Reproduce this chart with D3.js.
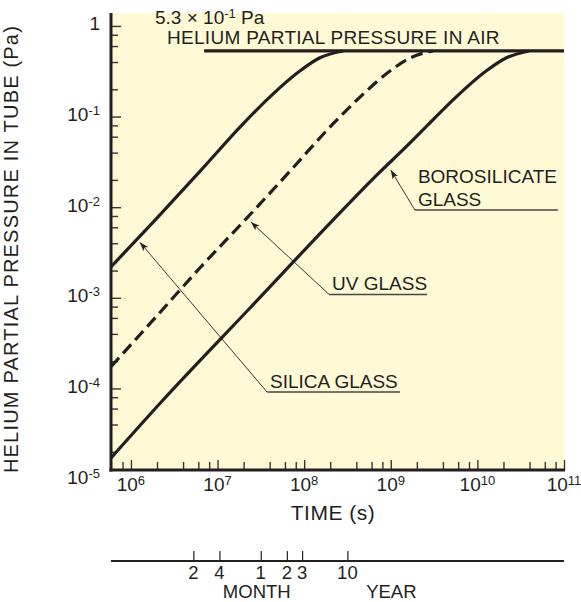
<!DOCTYPE html>
<html>
<head>
<meta charset="utf-8">
<script src="https://cdn.jsdelivr.net/npm/d3@7/dist/d3.min.js"></script>
<style>
  body { margin: 0; background: #ffffff; }
  text { font-family: "Liberation Sans", Arial, Helvetica, sans-serif; fill: #231f20; }
</style>
</head>
<body>
<svg id="chart" width="581" height="602"></svg>
<script>
// Helium build-up inside a tube, per envelope glass (time in s, pressure in Pa)
const silicaTime = [5.89e5, 1.9e6, 6.3e6, 1.97e7, 4.0e7, 8.9e7, 1.5e8, 2.8e8];
const silicaPressure = [2.2e-3, 7.2e-3, 2.5e-2, 8.3e-2, 0.164, 0.318, 0.443, 0.53];

const uvTime = [5.89e5, 1.9e6, 6.44e6, 2.07e7, 6.86e7, 2.15e8, 4.41e8, 9.79e8, 1.67e9, 3.07e9];
const uvPressure = [1.74e-4, 6.0e-4, 2.2e-3, 7.2e-3, 2.5e-2, 8.3e-2, 0.164, 0.318, 0.443, 0.53];

const boroTime = [5.89e5, 2.35e6, 2.37e7, 2.15e8, 7.51e8, 1.38e9, 2.76e9, 5.66e9, 1.26e10, 2.14e10, 3.94e10];
const boroPressure = [1.71e-5, 7.46e-5, 7.72e-4, 7.2e-3, 2.45e-2, 4.28e-2, 8.3e-2, 0.164, 0.318, 0.443, 0.53];

// Helium partial pressure in air and the time span its line covers
const airPressure = 0.53;
const airLineTime = [7.0e6, 1e11];

// Axis ticks
const xMajorExponents = [6, 7, 8, 9, 10, 11];
const yMajorExponents = [0, -1, -2, -3, -4, -5];
const yMajorLabels = ["1", "10|-1", "10|-2", "10|-3", "10|-4", "10|-5"];
const minorMultipliers = [2, 4, 6, 8];

// Calendar scale under the time axis
const monthTicks = [2, 4];
const yearTicks = [1, 2, 3, 10];
const secondsPerMonth = 2.628e6;
const secondsPerYear = 3.156e7;

// Leader annotations: arrow tip and elbow in data units, underline end time
const annotations = [
  { lines: ["SILICA GLASS"], tip: [1.27e6, 4.1e-3], elbow: [3.72e7, 9.14e-5], end: 1.28e9 },
  { lines: ["UV GLASS"], tip: [2.43e7, 6.87e-3], elbow: [1.94e8, 1.09e-3], end: 2.62e9 },
  { lines: ["BOROSILICATE", "GLASS"], tip: [1.0e9, 2.57e-2], elbow: [1.9e9, 9.3e-3], end: 8.5e10 }
];

const ink = "#231f20";
const svg = d3.select("#chart");
const plot = { left: 111, right: 564, top: 13, bottom: 470 };

const x = d3.scaleLog().domain([Math.pow(10, 5.77), 1e11]).range([plot.left, plot.right]);
const y = d3.scaleLog().domain([Math.pow(10, -4.9), Math.pow(10, 0.143)]).range([plot.bottom, plot.top]);

// plot background
svg.append("rect")
  .attr("x", plot.left).attr("y", plot.top)
  .attr("width", plot.right - plot.left).attr("height", plot.bottom - plot.top)
  .attr("fill", "#fff9d6");

// tick values
const xMajor = xMajorExponents.map(e => Math.pow(10, e));
const xMinor = [];
for (let e = 5; e <= 10; e++) minorMultipliers.forEach(m => {
  const v = m * Math.pow(10, e);
  if (x(v) > plot.left + 3 && x(v) < plot.right - 1) xMinor.push(v);
});
const yMajor = yMajorExponents.map(e => Math.pow(10, e)).filter(v => y(v) <= plot.bottom);
const yMinor = [];
for (let e = -5; e <= 0; e++) minorMultipliers.forEach(m => {
  const v = m * Math.pow(10, e) / 10;
  if (y(v) < plot.bottom - 2 && y(v) > plot.top + 2) yMinor.push(v);
});

function styleTicks(g) {
  g.select(".domain").remove();
  g.selectAll(".tick line").attr("stroke", "#3a3536").attr("stroke-width", 1.4);
}

// x ticks point upward from the time axis
svg.append("g").attr("transform", `translate(0,${plot.bottom})`)
  .call(d3.axisTop(x).tickValues(xMajor).tickSize(10).tickFormat(""))
  .call(styleTicks);
svg.append("g").attr("transform", `translate(0,${plot.bottom})`)
  .call(d3.axisTop(x).tickValues(xMinor).tickSize(8).tickFormat(""))
  .call(styleTicks);

// y ticks point right from the pressure axis
svg.append("g").attr("transform", `translate(${plot.left},0)`)
  .call(d3.axisRight(y).tickValues(yMajor).tickSize(10).tickFormat(""))
  .call(styleTicks);
svg.append("g").attr("transform", `translate(${plot.left},0)`)
  .call(d3.axisRight(y).tickValues(yMinor).tickSize(7).tickFormat(""))
  .call(styleTicks);

// axis lines
svg.append("line").attr("x1", plot.left).attr("x2", plot.left)
  .attr("y1", plot.top).attr("y2", plot.bottom + 1.5)
  .attr("stroke", ink).attr("stroke-width", 3);
svg.append("line").attr("x1", plot.left - 1.5).attr("x2", plot.right + 1)
  .attr("y1", plot.bottom).attr("y2", plot.bottom)
  .attr("stroke", ink).attr("stroke-width", 3);

// power-of-ten labels
function powerLabel(sel, base, exp) {
  sel.append("tspan").text(base);
  if (exp !== undefined) sel.append("tspan").attr("dy", -6).attr("font-size", 13).text(exp);
}
xMajorExponents.forEach(e => {
  const t = svg.append("text").attr("x", x(Math.pow(10, e))).attr("y", 491)
    .attr("font-size", 19).attr("text-anchor", "middle");
  powerLabel(t, "10", String(e));
});
yMajorExponents.forEach((e, i) => {
  const parts = yMajorLabels[i].split("|");
  const t = svg.append("text").attr("x", 100).attr("y", y(Math.pow(10, e)) + 4.5)
    .attr("font-size", 19).attr("text-anchor", "end");
  powerLabel(t, parts[0], parts[1]);
});

// axis titles
svg.append("text").attr("x", 333).attr("y", 520).attr("font-size", 21)
  .attr("letter-spacing", 0.5)
  .attr("text-anchor", "middle").text("TIME (s)");
svg.append("text").attr("transform", "translate(18,249) rotate(-90)")
  .attr("font-size", 20).attr("letter-spacing", 1.2).attr("text-anchor", "middle")
  .text("HELIUM PARTIAL PRESSURE IN TUBE (Pa)");

// curves
const line = d3.line().x(d => x(d[0])).y(d => y(d[1])).curve(d3.curveMonotoneX);
const zip = (a, b) => a.map((v, i) => [v, b[i]]);

svg.append("path").datum(airLineTime.map(t => [t, airPressure]))
  .attr("d", line).attr("fill", "none").attr("stroke", ink).attr("stroke-width", 3.2);

svg.append("path").datum(zip(silicaTime, silicaPressure))
  .attr("d", line).attr("fill", "none").attr("stroke", ink).attr("stroke-width", 3.2);
svg.append("path").datum(zip(uvTime, uvPressure))
  .attr("d", line).attr("fill", "none").attr("stroke", ink).attr("stroke-width", 3.2)
  .attr("stroke-dasharray", "12,6");
svg.append("path").datum(zip(boroTime, boroPressure))
  .attr("d", line).attr("fill", "none").attr("stroke", ink).attr("stroke-width", 3.2);

// header text for the air line
const head = svg.append("text").attr("x", 155).attr("y", 24).attr("font-size", 19);
head.append("tspan").text("5.3 \u00d7 10");
head.append("tspan").attr("dy", -6).attr("font-size", 13).text("-1");
head.append("tspan").attr("dy", 6).text(" Pa");
svg.append("text").attr("x", 167).attr("y", 44).attr("font-size", 19)
  .attr("letter-spacing", 0.3)
  .text("HELIUM PARTIAL PRESSURE IN AIR");

// arrowhead
svg.append("defs").append("marker")
  .attr("id", "arrow").attr("viewBox", "0 0 10 10")
  .attr("refX", 10).attr("refY", 5)
  .attr("markerWidth", 9).attr("markerHeight", 9)
  .attr("markerUnits", "userSpaceOnUse")
  .attr("orient", "auto")
  .append("path").attr("d", "M0,1.5 L10,5 L0,8.5 L2.5,5 Z").attr("fill", ink);

annotations.forEach(a => {
  const ex = x(a.elbow[0]), ey = y(a.elbow[1]);
  svg.append("line").attr("x1", ex).attr("y1", ey)
    .attr("x2", x(a.tip[0])).attr("y2", y(a.tip[1]))
    .attr("stroke", ink).attr("stroke-width", 0.9)
    .attr("marker-end", "url(#arrow)");
  svg.append("line").attr("x1", ex).attr("y1", ey).attr("x2", x(a.end)).attr("y2", ey)
    .attr("stroke", "#4a4546").attr("stroke-width", 1.4);
  const n = a.lines.length;
  a.lines.forEach((s, i) => {
    svg.append("text").attr("x", ex + 3).attr("y", ey - 4 - (n - 1 - i) * 23)
      .attr("font-size", 19).text(s);
  });
});

// calendar scale
const calY = 561;
const calTicks = monthTicks.map(m => ({ t: m * secondsPerMonth, label: String(m) }))
  .concat(yearTicks.map(yv => ({ t: yv * secondsPerYear, label: String(yv) })));
svg.append("g").attr("transform", `translate(0,${calY})`)
  .call(d3.axisTop(x).tickValues(calTicks.map(d => d.t)).tickSize(10).tickFormat(""))
  .call(g => { g.select(".domain").remove(); g.selectAll(".tick line").attr("stroke", ink).attr("stroke-width", 1.2); });
svg.append("line").attr("x1", plot.left).attr("x2", plot.right)
  .attr("y1", calY).attr("y2", calY).attr("stroke", ink).attr("stroke-width", 2);
calTicks.forEach(d => {
  svg.append("text").attr("x", x(d.t)).attr("y", 579).attr("font-size", 18.5)
    .attr("text-anchor", "middle").text(d.label);
});
svg.append("text").attr("x", x(yearTicks[0] * secondsPerYear) - 4).attr("y", 598).attr("font-size", 18.5)
  .attr("text-anchor", "middle").text("MONTH");
svg.append("text").attr("x", x(yearTicks[3] * secondsPerYear) + 44).attr("y", 598).attr("font-size", 18.5)
  .attr("text-anchor", "middle").text("YEAR");
</script>
</body>
</html>
